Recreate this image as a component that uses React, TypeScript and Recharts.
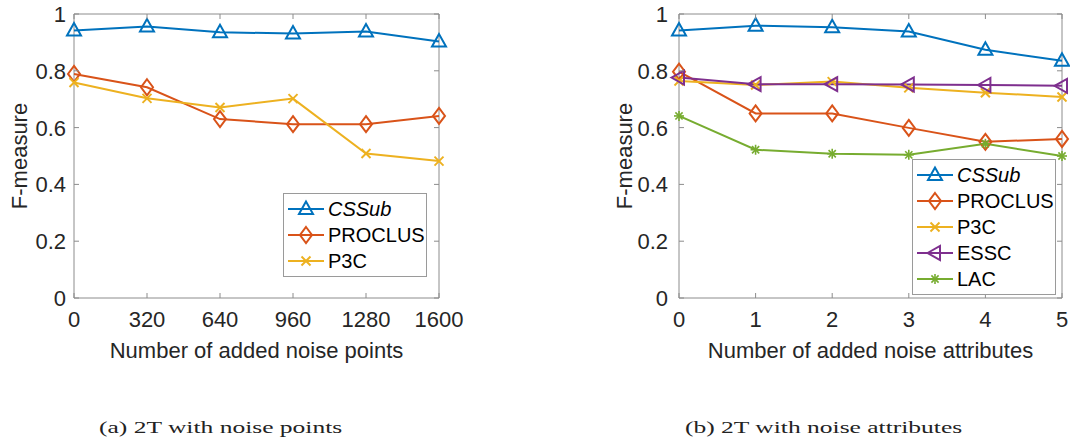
import React from "react";
import {
  LineChart,
  Line,
  XAxis,
  YAxis,
  ReferenceArea,
} from "recharts";

// Panel (a): noise points added
const NOISE_POINTS = [0, 320, 640, 960, 1280, 1600];
const A_CSSUB = [0.942, 0.956, 0.936, 0.931, 0.938, 0.903];
const A_PROCLUS = [0.789, 0.742, 0.63, 0.612, 0.612, 0.641];
const A_P3C = [0.759, 0.703, 0.671, 0.702, 0.509, 0.482];

// Panel (b): noise attributes added
const NOISE_ATTRS = [0, 1, 2, 3, 4, 5];
const B_CSSUB = [0.942, 0.959, 0.953, 0.938, 0.874, 0.835];
const B_PROCLUS = [0.797, 0.65, 0.65, 0.599, 0.55, 0.56];
const B_P3C = [0.764, 0.75, 0.762, 0.74, 0.723, 0.708];
const B_ESSC = [0.776, 0.753, 0.753, 0.752, 0.75, 0.747];
const B_LAC = [0.641, 0.522, 0.508, 0.504, 0.543, 0.5];

const Y_TICKS = [0, 0.2, 0.4, 0.6, 0.8, 1];
const Y_TICK_LABELS = ["0", "0.2", "0.4", "0.6", "0.8", "1"];

const BLUE = "#0072BD";
const ORANGE = "#D95319";
const YELLOW = "#EDB120";
const PURPLE = "#7E2F8E";
const GREEN = "#77AC30";

const SANS = "'Liberation Sans', Arial, sans-serif";
const TEXT = "#262626";
const AXIS = "#8c8c8c";
const FS = 22;

type Shape = "triUp" | "diamond" | "cross" | "triLeft" | "star";

function Marker({ shape, cx, cy, color }: { shape: Shape; cx: number; cy: number; color: string }) {
  const p = { fill: "none", stroke: color, strokeWidth: 2 };
  switch (shape) {
    case "triUp":
      return <polygon {...p} points={`${cx},${cy - 7.5} ${cx - 7},${cy + 5} ${cx + 7},${cy + 5}`} />;
    case "diamond":
      return <polygon {...p} points={`${cx},${cy - 8} ${cx + 6},${cy} ${cx},${cy + 8} ${cx - 6},${cy}`} />;
    case "cross":
      return (
        <g {...p}>
          <line x1={cx - 4.5} y1={cy - 4.5} x2={cx + 4.5} y2={cy + 4.5} />
          <line x1={cx - 4.5} y1={cy + 4.5} x2={cx + 4.5} y2={cy - 4.5} />
        </g>
      );
    case "triLeft":
      return <polygon {...p} points={`${cx - 7.5},${cy} ${cx + 5},${cy - 7} ${cx + 5},${cy + 7}`} />;
    case "star":
      return (
        <g {...p} strokeWidth={1.6}>
          <line x1={cx - 5} y1={cy} x2={cx + 5} y2={cy} />
          <line x1={cx} y1={cy - 5} x2={cx} y2={cy + 5} />
          <line x1={cx - 3.6} y1={cy - 3.6} x2={cx + 3.6} y2={cy + 3.6} />
          <line x1={cx - 3.6} y1={cy + 3.6} x2={cx + 3.6} y2={cy - 3.6} />
        </g>
      );
  }
  return null;
}

const dotOf = (shape: Shape, color: string) => (props: any) => {
  const { cx, cy, index } = props;
  if (cx == null || cy == null) return <g key={index} />;
  return <Marker key={index} shape={shape} cx={cx} cy={cy} color={color} />;
};

type SeriesDef = { key: string; name: string; color: string; shape: Shape; values: number[]; italic?: boolean };

function buildRows(xs: number[], series: SeriesDef[]) {
  return xs.map((x, i) => {
    const row: Record<string, number> = { x };
    series.forEach((s) => (row[s.key] = s.values[i]));
    return row;
  });
}

// geometry of one panel
type Geo = { left: number; width: number; height: number; plotLeft: number; plotRight: number; top: number; bottom: number };

const xTick = (geo: Geo) => (props: any) => {
  const { x, payload } = props;
  return (
    <g>
      <line x1={x} x2={x} y1={geo.bottom} y2={geo.bottom - 5} stroke={AXIS} />
      <line x1={x} x2={x} y1={geo.top} y2={geo.top + 5} stroke={AXIS} />
      <text x={x} y={geo.bottom + 29} textAnchor="middle" fontSize={FS} fill={TEXT} fontFamily={SANS}>
        {payload.value}
      </text>
    </g>
  );
};

const yTick = (geo: Geo, gap: number) => (props: any) => {
  const { y, payload } = props;
  const idx = Y_TICKS.indexOf(payload.value);
  return (
    <g>
      <line x1={geo.plotLeft} x2={geo.plotLeft + 5} y1={y} y2={y} stroke={AXIS} />
      <line x1={geo.plotRight} x2={geo.plotRight - 5} y1={y} y2={y} stroke={AXIS} />
      <text x={geo.plotLeft - gap} y={y} dy="0.36em" textAnchor="end" fontSize={FS} fill={TEXT} fontFamily={SANS}>
        {Y_TICK_LABELS[idx] ?? payload.value}
      </text>
    </g>
  );
};

function LegendBox({ series, left, top }: { series: SeriesDef[]; left: number; top: number }) {
  return (
    <div
      style={{
        position: "absolute",
        left,
        top,
        border: "1px solid #9a9a9a",
        background: "#fff",
        width: 144,
        padding: "2px 0 2px 0",
        boxSizing: "border-box",
      }}
    >
      {series.map((s) => (
        <div key={s.key} style={{ display: "flex", alignItems: "center", height: 26 }}>
          <svg width={44} height={26} style={{ display: "block" }}>
            <line x1={4} x2={40} y1={13} y2={13} stroke={s.color} strokeWidth={2} />
            <Marker shape={s.shape} cx={22} cy={13} color={s.color} />
          </svg>
          <span
            style={{
              fontFamily: SANS,
              fontSize: 20,
              color: "#000",
              fontStyle: s.italic ? "italic" : "normal",
              lineHeight: "26px",
            }}
          >
            {s.name}
          </span>
        </div>
      ))}
    </div>
  );
}

function Panel({
  geo,
  xs,
  series,
  xTitle,
  legendPos,
  yGap,
}: {
  geo: Geo;
  xs: number[];
  series: SeriesDef[];
  xTitle: string;
  legendPos: { left: number; top: number };
  yGap: number;
}) {
  const data = buildRows(xs, series);
  const yAxisW = geo.plotLeft;
  const xAxisH = geo.height - geo.bottom;
  const midY = (geo.top + geo.bottom) / 2;
  const labelX = geo.plotLeft - 47;
  return (
    <div style={{ position: "absolute", left: geo.left, top: 0, width: geo.width, height: geo.height }}>
      <LineChart
        width={geo.width}
        height={geo.height}
        data={data}
        margin={{ top: geo.top, right: geo.width - geo.plotRight, bottom: 0, left: 0 }}
      >
        <XAxis
          dataKey="x"
          type="number"
          domain={[xs[0], xs[xs.length - 1]]}
          ticks={xs}
          height={xAxisH}
          axisLine={false}
          tickLine={false}
          tick={xTick(geo)}
          interval={0}
          label={{
            value: xTitle,
            position: "insideBottom",
            offset: 14,
            fill: TEXT,
            fontSize: FS,
            fontFamily: SANS,
          }}
        />
        <YAxis
          type="number"
          domain={[0, 1]}
          ticks={Y_TICKS}
          width={yAxisW}
          axisLine={false}
          tickLine={false}
          tick={yTick(geo, yGap)}
          interval={0}
          label={{
            content: () => (
              <text
                x={labelX}
                y={midY}
                transform={`rotate(-90, ${labelX}, ${midY})`}
                textAnchor="middle"
                fontSize={FS}
                fill={TEXT}
                fontFamily={SANS}
              >
                F-measure
              </text>
            ),
          }}
        />
        <ReferenceArea
          x1={xs[0]}
          x2={xs[xs.length - 1]}
          y1={0}
          y2={1}
          fill="none"
          stroke={AXIS}
          strokeWidth={1}
          ifOverflow="visible"
        />
        {series.map((s) => (
          <Line
            key={s.key}
            dataKey={s.key}
            name={s.name}
            stroke={s.color}
            strokeWidth={2}
            dot={dotOf(s.shape, s.color)}
            activeDot={false}
            isAnimationActive={false}
          />
        ))}
      </LineChart>
      <LegendBox series={series} left={legendPos.left} top={legendPos.top} />
    </div>
  );
}

const SERIES_A: SeriesDef[] = [
  { key: "cssub", name: "CSSub", color: BLUE, shape: "triUp", values: A_CSSUB, italic: true },
  { key: "proclus", name: "PROCLUS", color: ORANGE, shape: "diamond", values: A_PROCLUS },
  { key: "p3c", name: "P3C", color: YELLOW, shape: "cross", values: A_P3C },
];

const SERIES_B: SeriesDef[] = [
  { key: "cssub", name: "CSSub", color: BLUE, shape: "triUp", values: B_CSSUB, italic: true },
  { key: "proclus", name: "PROCLUS", color: ORANGE, shape: "diamond", values: B_PROCLUS },
  { key: "p3c", name: "P3C", color: YELLOW, shape: "cross", values: B_P3C },
  { key: "essc", name: "ESSC", color: PURPLE, shape: "triLeft", values: B_ESSC },
  { key: "lac", name: "LAC", color: GREEN, shape: "star", values: B_LAC },
];

const GEO_A: Geo = { left: 0, width: 500, height: 372, plotLeft: 74, plotRight: 439, top: 14, bottom: 298 };
const GEO_B: Geo = { left: 600, width: 470, height: 372, plotLeft: 79, plotRight: 462, top: 14, bottom: 298 };

const captionStyle: React.CSSProperties = {
  position: "absolute",
  top: 418,
  fontFamily: "'Liberation Serif', 'DejaVu Serif', serif",
  fontSize: 17,
  color: "#222",
  whiteSpace: "nowrap",
  transform: "scaleX(1.5)",
  transformOrigin: "left top",
  lineHeight: "19px",
};

export default function App() {
  return (
    <div style={{ position: "absolute", left: 0, top: 0, width: 1070, height: 438, background: "#fff", overflow: "hidden" }}>
      <Panel
        geo={GEO_A}
        xs={NOISE_POINTS}
        series={SERIES_A}
        xTitle="Number of added noise points"
        legendPos={{ left: 283, top: 193 }}
        yGap={8}
      />
      <Panel
        geo={GEO_B}
        xs={NOISE_ATTRS}
        series={SERIES_B}
        xTitle="Number of added noise attributes"
        legendPos={{ left: 312, top: 159 }}
        yGap={11}
      />
      <div style={{ ...captionStyle, left: 99 }}>(a) 2T with noise points</div>
      <div style={{ ...captionStyle, left: 685 }}>(b) 2T with noise attributes</div>
    </div>
  );
}
